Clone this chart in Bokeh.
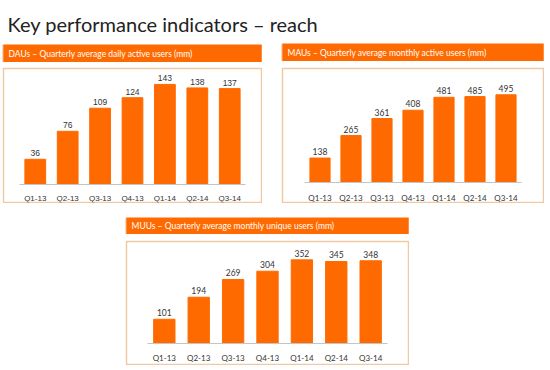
from bokeh.plotting import figure
from bokeh.models import Range1d, FactorRange, Label, Spacer
from bokeh.layouts import column, row
from bokeh.core.properties import value
from bokeh.embed import file_html
from bokeh.resources import INLINE

# Quarterly reach figures (millions)
quarters = ["Q1-13", "Q2-13", "Q3-13", "Q4-13", "Q1-14", "Q2-14", "Q3-14"]
dau = [36, 76, 109, 124, 143, 138, 137]
mau = [138, 265, 361, 408, 481, 485, 495]
muu = [101, 194, 269, 304, 352, 345, 348]

main_title = "Key performance indicators – reach"
dau_title = "DAUs – Quarterly average daily active users (mm)"
mau_title = "MAUs – Quarterly average monthly active users (mm)"
muu_title = "MUUs – Quarterly average monthly unique users (mm)"

ORANGE = "#FF6A00"
BOX = "#F0C9A4"
INK = "#333333"


def bare(width, height, **kw):
    p = figure(width=width, height=height, output_backend="svg", toolbar_location=None,
               min_border=0, outline_line_color=None, x_axis_location=None,
               y_axis_location=None, x_range=Range1d(0, 1), y_range=Range1d(0, 1), **kw)
    p.grid.visible = False
    return p


def header(text, width, height):
    p = bare(width, height, background_fill_color=ORANGE, border_fill_color=ORANGE)
    p.add_layout(Label(x=0, y=0.5, x_offset=5, text=text, text_color="white",
                       text_font="Lato", text_font_size="8.5px", text_baseline="middle"))
    return p


def panel(values, width, height, lo, hi, pad, bar_w, font):
    top = max(values)
    p = figure(width=width, height=height, output_backend="svg", toolbar_location=None,
               x_range=FactorRange(*quarters, range_padding=pad, range_padding_units="absolute"),
               y_range=Range1d(lo * top, hi * top), min_border=1, y_axis_location=None,
               outline_line_color=BOX, outline_line_width=1.5, background_fill_color="white")
    p.grid.visible = False
    p.vbar(x=quarters, top=values, width=bar_w, color=ORANGE)
    p.text(x=quarters, y=values, text=[str(v) for v in values], text_align="center",
           text_baseline="bottom", y_offset=-3, text_font=value(font),
           text_font_size="8.5px", text_color=INK)
    ax = p.xaxis[0]
    ax.fixed_location = 0
    ax.bounds = (0, len(quarters))
    ax.axis_line_color = "#C4C4C4"
    ax.major_tick_line_color = None
    ax.minor_tick_line_color = None
    ax.major_label_standoff = 4
    ax.major_label_text_font = font
    ax.major_label_text_font_size = "8px"
    ax.major_label_text_color = INK
    return p


title_fig = bare(550, 42)
title_fig.add_layout(Label(x=0, y=0.45, x_offset=7, text=main_title, text_color="#222222",
                           text_font="Lato", text_font_size="20px",
                           text_baseline="alphabetic"))

p1 = panel(dau, 260, 136, -0.18, 1.159, 0.48, 0.64, "Liberation Sans")
p2 = panel(mau, 263, 136, -0.228, 1.30, 0.71, 0.65, "Lato")
p3 = panel(muu, 284, 125, -0.256, 1.22, 0.6, 0.62, "Lato")

col1 = column(Spacer(height=2), header(dau_title, 260, 18), Spacer(height=5), p1)
col2 = column(Spacer(height=1), header(mau_title, 263, 18), Spacer(height=6), p2)
col3 = column(header(muu_title, 284, 17), Spacer(height=6), p3)

layout = column(
    title_fig,
    row(Spacer(width=2), col1, Spacer(width=19), col2),
    Spacer(height=14),
    row(Spacer(width=125), col3),
)

open("out.html", "w").write(file_html(layout, INLINE))
